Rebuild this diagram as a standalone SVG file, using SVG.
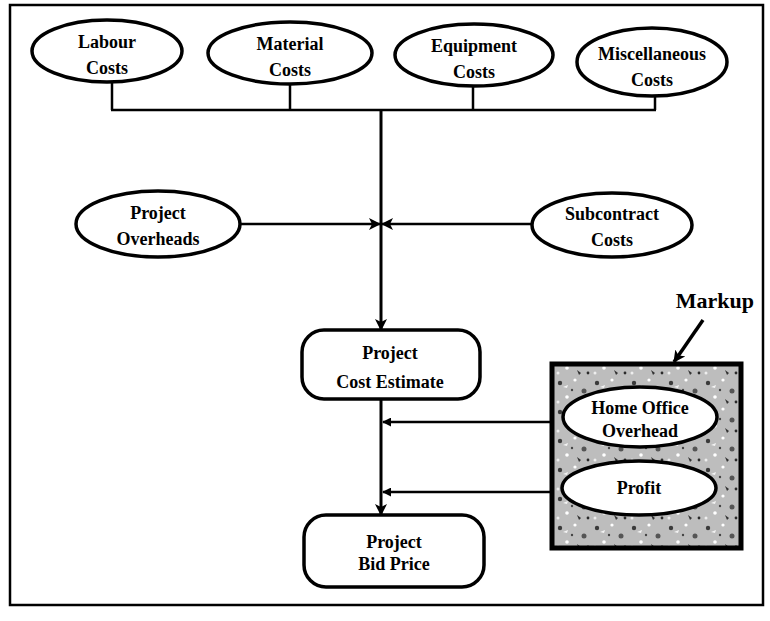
<svg xmlns="http://www.w3.org/2000/svg" width="770" height="621" viewBox="0 0 770 621">
<defs>
<style>
.node{fill:#fff;stroke:#000;stroke-width:3.5}
.lbl{font-family:"Liberation Serif","Times New Roman",serif;font-weight:bold;font-size:18px;fill:#000;text-anchor:middle}
.ln{fill:none;stroke:#000;stroke-width:2.5}
.trunk{fill:none;stroke:#000;stroke-width:3}
</style>
<marker id="arr" viewBox="0 0 12 12" refX="11" refY="6" markerWidth="12" markerHeight="12" markerUnits="userSpaceOnUse" orient="auto">
<path d="M0,0 L12,6 L0,12 L3,6 Z" fill="#000"/>
</marker>
<marker id="arrS" viewBox="0 0 10 10" refX="9" refY="5" markerWidth="9" markerHeight="9" markerUnits="userSpaceOnUse" orient="auto">
<path d="M0,0 L10,5 L0,10 Z" fill="#000"/>
</marker>
<pattern id="speckle" width="37" height="29" patternUnits="userSpaceOnUse">
<rect width="37" height="29" fill="#bdbdbd"/>
<circle cx="5" cy="6" r="2.2" fill="#3a3a3a"/>
<circle cx="20" cy="3" r="1.6" fill="#fff"/>
<circle cx="29" cy="14" r="2.5" fill="#555"/>
<circle cx="12" cy="20" r="1.8" fill="#fff"/>
<circle cx="33" cy="25" r="1.4" fill="#2a2a2a"/>
<circle cx="3" cy="25" r="1.5" fill="#eee"/>
<circle cx="17" cy="13" r="1.2" fill="#444"/>
<path d="M22,22 l4,3 l-2,2 z" fill="#333"/>
<path d="M8,10 l5,-2 l-1,3 z" fill="#f4f4f4"/>
</pattern>
</defs>
<rect width="770" height="621" fill="#fff"/>
<rect x="10" y="5" width="753" height="600" fill="none" stroke="#000" stroke-width="2.5"/>

<g id="connectors">
<line class="ln" x1="112" y1="82" x2="112" y2="110"/>
<line class="ln" x1="290" y1="84" x2="290" y2="110"/>
<line class="ln" x1="473" y1="86" x2="473" y2="110"/>
<line class="ln" x1="655" y1="97" x2="655" y2="110"/>
<line class="ln" x1="111" y1="110" x2="656" y2="110"/>
<line class="trunk" x1="381" y1="110" x2="381" y2="330" marker-end="url(#arr)"/>
<line class="ln" x1="240" y1="224" x2="380" y2="224" marker-end="url(#arr)"/>
<line class="ln" x1="532" y1="224" x2="382" y2="224" marker-end="url(#arr)"/>
<line class="trunk" x1="381" y1="399" x2="381" y2="515" marker-end="url(#arr)"/>
<line class="ln" x1="552" y1="422" x2="383" y2="422" marker-end="url(#arrS)"/>
<line class="ln" x1="552" y1="492" x2="383" y2="492" marker-end="url(#arrS)"/>
</g>

<g id="labour">
<ellipse class="node" cx="107" cy="51" rx="75" ry="31"/>
<text class="lbl" x="107" y="48">Labour</text>
<text class="lbl" x="107" y="74">Costs</text>
</g>
<g id="material">
<ellipse class="node" cx="290" cy="53" rx="82" ry="31"/>
<text class="lbl" x="290" y="50">Material</text>
<text class="lbl" x="290" y="76">Costs</text>
</g>
<g id="equipment">
<ellipse class="node" cx="474" cy="55" rx="79" ry="31"/>
<text class="lbl" x="474" y="52">Equipment</text>
<text class="lbl" x="474" y="78">Costs</text>
</g>
<g id="misc">
<ellipse class="node" cx="652" cy="62" rx="75" ry="34"/>
<text class="lbl" x="652" y="60">Miscellaneous</text>
<text class="lbl" x="652" y="86">Costs</text>
</g>
<g id="overheads">
<ellipse class="node" cx="158" cy="224" rx="82" ry="33"/>
<text class="lbl" x="158" y="219">Project</text>
<text class="lbl" x="158" y="245">Overheads</text>
</g>
<g id="subcontract">
<ellipse class="node" cx="612" cy="225" rx="80" ry="32"/>
<text class="lbl" x="612" y="220">Subcontract</text>
<text class="lbl" x="612" y="246">Costs</text>
</g>
<g id="estimate">
<rect class="node" x="302" y="330" width="178" height="69" rx="22"/>
<text class="lbl" x="390" y="359">Project</text>
<text class="lbl" x="390" y="388">Cost Estimate</text>
</g>
<g id="bidprice">
<rect class="node" x="304" y="515" width="180" height="72" rx="22"/>
<text class="lbl" x="394" y="548">Project</text>
<text class="lbl" x="394" y="570">Bid Price</text>
</g>
<g id="markup">
<rect x="552" y="364" width="189" height="184" fill="url(#speckle)" stroke="#000" stroke-width="5"/>
<text x="754" y="308" style="font-family:'Liberation Serif','Times New Roman',serif;font-weight:bold;font-size:22px;text-anchor:end">Markup</text>
<line x1="703" y1="320" x2="674" y2="362" stroke="#000" stroke-width="3.5" marker-end="url(#arr)"/>
</g>
<g id="homeoffice">
<ellipse class="node" cx="640" cy="417" rx="77" ry="30" stroke-width="5"/>
<text class="lbl" x="640" y="414">Home Office</text>
<text class="lbl" x="640" y="437">Overhead</text>
</g>
<g id="profit">
<ellipse class="node" cx="639" cy="488" rx="77" ry="27" stroke-width="5"/>
<text class="lbl" x="639" y="494">Profit</text>
</g>
</svg>
